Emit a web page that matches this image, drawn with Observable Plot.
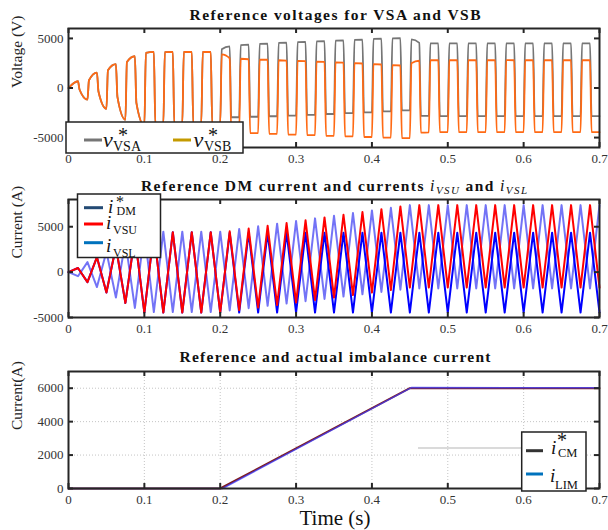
<!DOCTYPE html>
<html><head><meta charset="utf-8">
<script src="https://cdn.jsdelivr.net/npm/d3@7"></script>
<script src="https://cdn.jsdelivr.net/npm/@observablehq/plot@0.6"></script>
<style>
html,body{margin:0;padding:0;background:#fff;}
#wrap{position:relative;width:608px;height:530px;overflow:hidden;background:#fff;}
#wrap svg text{font-family:"Liberation Serif";}
</style></head><body><div id="wrap"></div>
<script>
// ---------- data ----------
const xTicks = [0, 0.1, 0.2, 0.3, 0.4, 0.5, 0.6, 0.7];
const vTicks = [-5000, 0, 5000];
const iTicks = [-5000, 0, 5000];
const cmTicks = [0, 2000, 4000, 6000];

// switching edges / triangle vertices (s)
const edges = [0, 0.0125, 0.025, 0.0375, 0.05, 0.0625, 0.075, 0.0875, 0.1, 0.1125, 0.125, 0.1375, 0.15, 0.1625, 0.175, 0.1875,
  0.2, 0.2125, 0.225, 0.2375, 0.25, 0.2625, 0.275, 0.2875, 0.3, 0.3125, 0.325, 0.3375, 0.35, 0.3625, 0.375, 0.3875,
  0.4, 0.4125, 0.425, 0.4375, 0.45, 0.4625, 0.475, 0.4875, 0.5, 0.5125, 0.525, 0.5375, 0.55, 0.5625, 0.575, 0.5875,
  0.6, 0.6125, 0.625, 0.6375, 0.65, 0.6625, 0.675, 0.6875, 0.7];

// reference voltages: value at start and end of each half period (V)
const vsaStart = [0, -150, 780, -350, 1790, -900, 2630, -1500, 3550, -3600, 3620, -3650, 3630, -3650, 3630, -3650,
  3900, -2950, 4330, -2900, 4450, -2850, 4550, -2780, 4620, -2700, 4700, -2620, 4780, -2540, 4860, -2450, 4950, -2350, 5000, -2250, 4900, -2800,
  4500, -2830, 4500, -2830, 4500, -2830, 4500, -2830, 4500, -2830, 4500, -2830, 4500, -2830, 4500, -2830, 4500, -2830];
const vsaEnd = [680, -1170, 1560, -2090, 2400, -3200, 3200, -3800, 3640, -3650, 3640, -3650, 3640, -3650, 3640, -3650,
  4200, -2950, 4370, -2900, 4470, -2850, 4570, -2780, 4640, -2700, 4720, -2620, 4800, -2540, 4880, -2450, 4970, -2350, 5020, -2250, 4550, -2820,
  4500, -2830, 4500, -2830, 4500, -2830, 4500, -2830, 4500, -2830, 4500, -2830, 4500, -2830, 4500, -2830, 4500, -2830];
const vsbStart = [0, -150, 780, -350, 1790, -900, 2630, -1500, 3550, -3600, 3620, -3650, 3630, -3650, 3630, -3650,
  3400, -4450, 2950, -4550, 2870, -4620, 2800, -4700, 2730, -4760, 2660, -4820, 2590, -4880, 2500, -4940, 2400, -5000, 2300, -5060, 2500, -4500,
  2820, -4450, 2820, -4450, 2820, -4450, 2820, -4450, 2820, -4450, 2820, -4450, 2820, -4450, 2820, -4450, 2820, -4450];
const vsbEnd = [680, -1170, 1560, -2090, 2400, -3200, 3200, -3800, 3640, -3650, 3640, -3650, 3640, -3650, 3640, -3650,
  3000, -4450, 2900, -4550, 2850, -4620, 2770, -4700, 2700, -4760, 2630, -4820, 2560, -4880, 2470, -4940, 2370, -5000, 2270, -5060, 2750, -4470,
  2800, -4450, 2800, -4450, 2800, -4450, 2800, -4450, 2800, -4450, 2800, -4450, 2800, -4450, 2800, -4450, 2800, -4450];

// currents at the triangle vertices (A)
const iDM = [0, 450, -1100, 1650, -2250, 2800, -3400, 3950, -4450, 4400, -4450, 4400, -4450, 4400, -4450, 4400,
  -4450, 4350, -4450, 4350, -4450, 4350, -4450, 4350, -4450, 4350, -4450, 4350, -4450, 4350, -4450, 4350,
  -4450, 4350, -4450, 4350, -4450, 4350, -4450, 4350, -4450, 4350, -4450, 4350, -4450, 4350, -4450, 4350,
  -4450, 4350, -4450, 4350, -4450, 4350, -4450, 4350, -4450];
const iVSU = [0, 450, -1100, 1650, -2250, 2800, -3400, 3950, -4450, 4400, -4450, 4400, -4450, 4400, -4450, 4400,
  -4450, 4500, -4180, 4800, -3900, 5100, -3630, 5400, -3350, 5710, -3080, 6020, -2800, 6320, -2530, 6620,
  -2250, 6930, -1980, 7230, -1700, 7380, -1700, 7380, -1700, 7380, -1700, 7380, -1700, 7380, -1700, 7380,
  -1700, 7380, -1700, 7380, -1700, 7380, -1700, 7380, -1700];
const iVSL = [0, -450, 1100, -1650, 2250, -2800, 3400, -3950, 4450, -4400, 4450, -4400, 4450, -4400, 4450, -4400,
  4450, -4220, 4740, -3970, 5040, -3710, 5330, -3460, 5620, -3200, 5920, -2950, 6210, -2690, 6500, -2440,
  6790, -2180, 7090, -1930, 7380, -1800, 7380, -1800, 7380, -1800, 7380, -1800, 7380, -1800, 7380, -1800,
  7380, -1800, 7380, -1800, 7380, -1800, 7380, -1800, 7380];

// imbalance current (A)
const cmTimes = [0, 0.2, 0.45, 0.7];
const cmRef = [0, 0, 6000, 6000];
const limTimes = [0, 0.203, 0.452, 0.7];
const limVals = [0, 0, 6040, 6030];

// ---------- build ----------
const wrap = document.getElementById("wrap");
const ML = 68, MR = 9, W = 608, FW = W - ML - MR;
const RISE = 0.002;
const FONT = "Liberation Serif";

function squareSeries(starts, ends) {
  const pts = [];
  for (let k = 0; k < starts.length; k++) {
    pts.push({t: k === 0 ? edges[0] : edges[k] + RISE, v: starts[k]});
    pts.push({t: edges[k + 1], v: ends[k]});
  }
  return pts;
}
const vertexSeries = (vals) => vals.map((v, i) => ({t: edges[i], v}));
const pairSeries = (ts, vs) => ts.map((t, i) => ({t, v: vs[i]}));

function panel({top, height, mt, mb, domain, yTicks, lines, grid, ylabel}) {
  const FH = height - mt - mb;
  const ts = {stroke: "#262626", strokeWidth: 2};
  const marks = [];
  if (grid) {
    marks.push(Plot.gridX(xTicks.slice(1, -1), {stroke: "#c4c4c4", strokeOpacity: 1, strokeDasharray: "1,2"}));
    marks.push(Plot.gridY(yTicks.slice(1), {stroke: "#c4c4c4", strokeOpacity: 1, strokeDasharray: "1,2"}));
  }
  marks.push(...lines);
  marks.push(
    Plot.tickX(xTicks, {x: d => d, insetBottom: FH - 5, ...ts}),
    Plot.tickX(xTicks, {x: d => d, insetTop: FH - 5, ...ts}),
    Plot.tickY(yTicks, {y: d => d, insetRight: FW - 5, ...ts}),
    Plot.tickY(yTicks, {y: d => d, insetLeft: FW - 5, ...ts}),
    Plot.axisX(xTicks, {tickSize: 0, tickPadding: 6, tickFormat: d => String(d), label: null, fontFamily: FONT, fontSize: 13, fill: "#333"}),
    Plot.axisY(yTicks, {tickSize: 0, tickPadding: 5, tickFormat: d => String(d), label: null, fontFamily: FONT, fontSize: 13, fill: "#333"}),
    Plot.text([ylabel], {text: d => d, frameAnchor: "left", dx: -51, rotate: -90, fontSize: 15.5, fontFamily: FONT, fill: "#222"}),
    Plot.frame({stroke: "#262626", strokeWidth: 2})
  );
  const svg = Plot.plot({
    width: W, height, marginTop: mt, marginBottom: mb, marginLeft: ML, marginRight: MR,
    style: {fontFamily: FONT, fontSize: "13px", color: "#222", background: "transparent", overflow: "visible"},
    x: {domain: [0, 0.7], label: null},
    y: {domain, label: null},
    marks
  });
  svg.style.position = "absolute";
  svg.style.left = "0px";
  svg.style.top = top + "px";
  wrap.append(svg);
}

panel({
  top: 0, height: 170, mt: 28, mb: 23, domain: [-6000, 6000], yTicks: vTicks, ylabel: "Voltage (V)",
  lines: [
    Plot.line(squareSeries(vsaStart, vsaEnd), {x: "t", y: "v", stroke: "#767676", strokeWidth: 1.8, curve: "monotone-x"}),
    Plot.line(squareSeries(vsbStart, vsbEnd), {x: "t", y: "v", stroke: "#ff6a14", strokeWidth: 1.8, curve: "monotone-x"})
  ]
});

panel({
  top: 170, height: 170, mt: 29, mb: 23, domain: [-5000, 8000], yTicks: iTicks, ylabel: "Current (A)",
  lines: [
    Plot.line(vertexSeries(iVSL), {x: "t", y: "v", stroke: "#0000ee", strokeOpacity: 0.55, strokeWidth: 2}),
    Plot.line(vertexSeries(iDM), {x: "t", y: "v", stroke: "#0000ff", strokeWidth: 2}),
    Plot.line(vertexSeries(iVSU), {x: "t", y: "v", stroke: "#ff0000", strokeWidth: 2})
  ]
});

panel({
  top: 340, height: 170, mt: 31, mb: 22, domain: [0, 7000], yTicks: cmTicks, ylabel: "Current(A)", grid: true,
  lines: [
    Plot.line(pairSeries(cmTimes, cmRef), {x: "t", y: "v", stroke: "#7f1d1d", strokeWidth: 2}),
    Plot.line(pairSeries(limTimes, limVals), {x: "t", y: "v", stroke: "#3b3bff", strokeOpacity: 0.75, strokeWidth: 1.5})
  ]
});

// ---------- titles & legends overlay ----------
const ov = d3.select(wrap).append("svg")
  .attr("width", 608).attr("height", 530)
  .style("position", "absolute").style("left", "0px").style("top", "0px");

const SER = "Liberation Serif";
function txt(x, y, s, o = {}) {
  return ov.append("text").attr("x", x).attr("y", y).text(s)
    .style("font-family", o.ff || SER)
    .attr("font-size", o.fs || 12)
    .attr("font-style", o.it ? "italic" : null)
    .attr("font-weight", o.b ? "bold" : null)
    .attr("text-anchor", o.anchor || "start")
    .attr("fill", "#111");
}
// one legend label: italic symbol, optional superscript star, subscript
function mathLabel(x, y, sym, symSize, star, sub, subSize) {
  const t = ov.append("text").attr("x", x.sym).attr("y", y.sym).attr("fill", "#111").style("font-family", SER);
  t.append("tspan").attr("font-style", "italic").attr("font-size", symSize).text(sym);
  if (star) t.append("tspan").attr("x", star.x).attr("y", star.y).attr("font-size", star.fs).text("*");
  t.append("tspan").attr("x", x.sub).attr("y", y.sub).attr("font-size", subSize).text(sub);
}
function seg(x1, x2, y, color, w = 3) {
  ov.append("line").attr("x1", x1).attr("x2", x2).attr("y1", y).attr("y2", y)
    .attr("stroke", color).attr("stroke-width", w);
}
function box(x, y, w, h) {
  ov.append("rect").attr("x", x).attr("y", y).attr("width", w).attr("height", h)
    .attr("fill", "#fff").attr("stroke", "#222").attr("stroke-width", 1.5);
}

// titles
txt(335, 20, "Reference voltages for VSA and VSB", {fs: 15.5, b: true, anchor: "middle"})
  .attr("textLength", 291).attr("lengthAdjust", "spacing");
const t2 = ov.append("text").attr("x", 141).attr("y", 191)
  .style("font-family", SER).attr("font-size", 15.5).attr("fill", "#111")
  .attr("textLength", 386).attr("lengthAdjust", "spacing");
t2.append("tspan").attr("font-weight", "bold").text("Reference DM current and currents ");
t2.append("tspan").attr("font-style", "italic").attr("font-size", 16).text("i");
t2.append("tspan").attr("font-style", "italic").attr("font-size", 11).attr("dy", 3).text("VSU");
t2.append("tspan").attr("font-weight", "bold").attr("dy", -3).text(" and ");
t2.append("tspan").attr("font-style", "italic").attr("font-size", 16).text("i");
t2.append("tspan").attr("font-style", "italic").attr("font-size", 11).attr("dy", 3).text("VSL");
txt(335, 362, "Reference and actual imbalance current", {fs: 15.5, b: true, anchor: "middle"})
  .attr("textLength", 311).attr("lengthAdjust", "spacing");
txt(335, 525, "Time (s)", {fs: 21, anchor: "middle"});

// top legend
box(66, 122, 177, 31);
seg(84, 102, 140, "#767676");
mathLabel({sym: 103, sub: 113}, {sym: 147, sub: 150.5}, "v", 22, {x: 118, y: 141.5, fs: 20}, "VSA", 14);
seg(173, 191, 140, "#c49a00");
mathLabel({sym: 193.5, sub: 204}, {sym: 147, sub: 150.5}, "v", 22, {x: 208, y: 141.5, fs: 20}, "VSB", 14);

// middle legend
box(77.5, 194, 83, 63.5);
seg(84, 103, 207.7, "#234a74");
seg(84, 103, 224, "#ff0000");
seg(84, 103, 242.7, "#0072bd");
mathLabel({sym: 108, sub: 116.5}, {sym: 213, sub: 215}, "i", 19, {x: 116, y: 207, fs: 16}, "DM", 12);
mathLabel({sym: 106, sub: 113}, {sym: 229, sub: 233.5}, "i", 19, null, "VSU", 12);
mathLabel({sym: 106, sub: 113}, {sym: 252, sub: 256.5}, "i", 19, null, "VSL", 12);

// bottom legend
seg(418, 522, 448, "#b5b5b5", 1);
box(521.7, 432, 64.3, 59);
seg(526, 543, 450.7, "#333333");
seg(526, 543, 474, "#0072bd");
mathLabel({sym: 551, sub: 558}, {sym: 453.5, sub: 457}, "i", 19, {x: 557, y: 447, fs: 20}, "CM", 12.5);
mathLabel({sym: 550, sub: 555}, {sym: 481.5, sub: 489}, "i", 19, null, "LIM", 12.5);
</script></body></html>
